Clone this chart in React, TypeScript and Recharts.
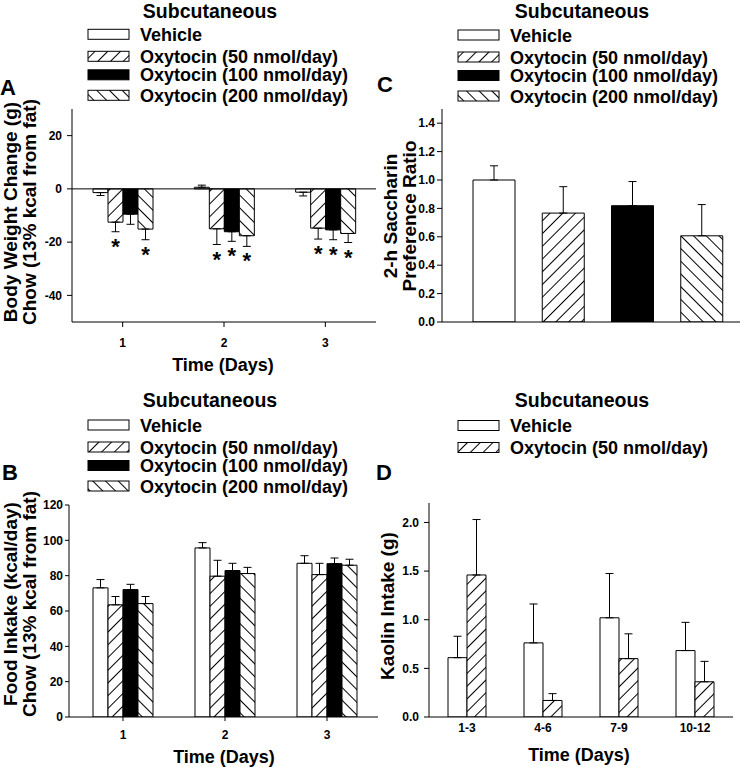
import React from 'react';
import { BarChart, Bar, XAxis, YAxis, ErrorBar, ReferenceLine, LabelList, Cell } from 'recharts';

const FONT = '"Liberation Sans", Arial, Helvetica, sans-serif';

// legend / group names
const groupNames = ['Vehicle', 'Oxytocin (50 nmol/day)', 'Oxytocin (100 nmol/day)', 'Oxytocin (200 nmol/day)'];

// Panel A - body weight change (g)
const aDays = ['1', '2', '3'];
const aVehicle = [-1.4, 0.6, -1.25];
const aVehicleSem = [1.1, 0.8, 1.4];
const a50 = [-12.5, -15, -14.75];
const a50Sem = [3.6, 5.9, 4.1];
const a100 = [-9.5, -16.1, -15.4];
const a100Sem = [3.8, 3.6, 3.7];
const a200 = [-15.1, -17.6, -16.75];
const a200Sem = [4.0, 4.0, 3.4];
const a50Sig = [true, true, true];
const a100Sig = [false, true, true];
const a200Sig = [true, true, true];
const aTicks = [-40, -20, 0, 20];

// Panel B - food intake (kcal/day)
const bDays = ['1', '2', '3'];
const bVehicle = [73.1, 95.7, 87];
const bVehicleSem = [4.7, 3, 4.3];
const b50 = [63.5, 79.7, 80.6];
const b50Sem = [4.7, 9, 6.4];
const b100 = [72.1, 82.9, 86.8];
const b100Sem = [3, 4.1, 3.2];
const b200 = [64.2, 81.2, 85.9];
const b200Sem = [4, 3.5, 3.4];
const bTicks = [0, 20, 40, 60, 80, 100, 120];

// Panel C - 2-h saccharin preference ratio
const cValues = [1.0, 0.767, 0.819, 0.607];
const cSem = [0.1, 0.186, 0.17, 0.22];
const cTicks = [0, 0.2, 0.4, 0.6, 0.8, 1.0, 1.2, 1.4];

// Panel D - kaolin intake (g)
const dDays = ['1-3', '4-6', '7-9', '10-12'];
const dVehicle = [0.61, 0.762, 1.02, 0.683];
const dVehicleSem = [0.22, 0.4, 0.455, 0.29];
const d50 = [1.46, 0.17, 0.6, 0.362];
const d50Sem = [0.57, 0.07, 0.255, 0.21];
const dTicks = [0, 0.5, 1.0, 1.5, 2.0];

// error bars only go away from zero
const oneSided = (v: number, s: number) => (v < 0 ? [s, 0] : [0, s]);

const aData = aDays.map((day, i) => ({
  day,
  idx: i,
  vehicle: aVehicle[i],
  vehicleErr: oneSided(aVehicle[i], aVehicleSem[i]),
  oxt50: a50[i],
  oxt50Err: oneSided(a50[i], a50Sem[i]),
  oxt100: a100[i],
  oxt100Err: oneSided(a100[i], a100Sem[i]),
  oxt200: a200[i],
  oxt200Err: oneSided(a200[i], a200Sem[i]),
}));

const bData = bDays.map((day, i) => ({
  day,
  vehicle: bVehicle[i],
  vehicleErr: oneSided(bVehicle[i], bVehicleSem[i]),
  oxt50: b50[i],
  oxt50Err: oneSided(b50[i], b50Sem[i]),
  oxt100: b100[i],
  oxt100Err: oneSided(b100[i], b100Sem[i]),
  oxt200: b200[i],
  oxt200Err: oneSided(b200[i], b200Sem[i]),
}));

const cData = groupNames.map((name, i) => ({
  name,
  value: cValues[i],
  err: oneSided(cValues[i], cSem[i]),
}));

const dData = dDays.map((day, i) => ({
  day,
  vehicle: dVehicle[i],
  vehicleErr: oneSided(dVehicle[i], dVehicleSem[i]),
  oxt50: d50[i],
  oxt50Err: oneSided(d50[i], d50Sem[i]),
}));

const groupFills = ['#fff', 'url(#hatchFwd)', '#000', 'url(#hatchBack)'];

const tickStyle = { fontSize: 12, fontWeight: 700, fill: '#000', fontFamily: FONT };
const axisLine = { stroke: '#000', strokeWidth: 1 };
const fmt1 = (v: number) => v.toFixed(1);

// asterisk under the error bar of significant bars
const starLabel = (values: number[], sems: number[], sig: boolean[]) => (props: any) => {
  const vb = props.viewBox || {};
  const x = Number(props.x ?? vb.x);
  const y = Number(props.y ?? vb.y);
  const width = Number(props.width ?? vb.width);
  const height = Number(props.height ?? vb.height);
  const i = Number(props.value);
  if (!sig[i] || !isFinite(x) || !isFinite(y)) return null;
  const bottom = Math.max(y, y + height);
  const pxPerUnit = Math.abs(height) / Math.abs(values[i]);
  const end = bottom + sems[i] * pxPerUnit;
  return (
    <text x={x + width / 2} y={end + 22} textAnchor="middle" fontSize={22} fontWeight={700} fontFamily={FONT} fill="#000">
      *
    </text>
  );
};

const barProps = { stroke: '#000', strokeWidth: 1, isAnimationActive: false };
const errProps = { width: 4, stroke: '#000', strokeWidth: 1, isAnimationActive: false };

const Legend = ({ x, y, count }: { x: number; y: number; count: number }) => {
  const offsets = [0, 22, 40.5, 61];
  return (
    <g>
      {groupNames.slice(0, count).map((name, i) => (
        <g key={name}>
          <rect x={x} y={y + offsets[i] - 5} width={41} height={10} fill={groupFills[i]} stroke="#000" strokeWidth={1} />
          <text x={x + 52} y={y + offsets[i] + 6.5} fontSize={18} fontWeight={700} fontFamily={FONT} fill="#000">
            {name}
          </text>
        </g>
      ))}
    </g>
  );
};

const VLabel = ({ x, y, text }: { x: number; y: number; text: string }) => (
  <text x={x} y={y} transform={`rotate(-90 ${x} ${y})`} textAnchor="middle" fontSize={19} fontWeight={700} fontFamily={FONT} fill="#000">
    {text}
  </text>
);

const Heading = ({ x, y, text, size = 20 }: { x: number; y: number; text: string; size?: number }) => (
  <text x={x} y={y} textAnchor="middle" fontSize={size} fontWeight={700} fontFamily={FONT} fill="#000">
    {text}
  </text>
);

export default function App() {
  return (
    <div style={{ position: 'absolute', left: 0, top: 0, width: 750, height: 767, background: '#fff', fontFamily: FONT }}>
      {/* A */}
      <div style={{ position: 'absolute', left: 0, top: 0 }}>
        <BarChart width={380} height={390} data={aData} margin={{ top: 109, right: 4, bottom: 38, left: 0 }} barGap={0}>
          <XAxis dataKey="day" height={30} interval={0} tickSize={5} tickMargin={11} axisLine={axisLine} tickLine={axisLine} tick={tickStyle} />
          <YAxis type="number" domain={[-50, 30]} ticks={aTicks} allowDataOverflow width={72} tickSize={5} tickMargin={5} axisLine={axisLine} tickLine={axisLine} tick={tickStyle} />
          <ReferenceLine y={0} stroke="#000" strokeWidth={1} />
          <Bar dataKey="vehicle" barSize={15} fill="#fff" {...barProps}>
            <ErrorBar dataKey="vehicleErr" {...errProps} />
          </Bar>
          <Bar dataKey="oxt50" barSize={15} fill="url(#hatchFwd)" {...barProps}>
            <ErrorBar dataKey="oxt50Err" {...errProps} />
            <LabelList dataKey="idx" content={starLabel(a50, a50Sem, a50Sig)} />
          </Bar>
          <Bar dataKey="oxt100" barSize={15} fill="#000" {...barProps}>
            <ErrorBar dataKey="oxt100Err" {...errProps} />
            <LabelList dataKey="idx" content={starLabel(a100, a100Sem, a100Sig)} />
          </Bar>
          <Bar dataKey="oxt200" barSize={15} fill="url(#hatchBack)" {...barProps}>
            <ErrorBar dataKey="oxt200Err" {...errProps} />
            <LabelList dataKey="idx" content={starLabel(a200, a200Sem, a200Sig)} />
          </Bar>
        </BarChart>
      </div>

      {/* C */}
      <div style={{ position: 'absolute', left: 375, top: 0 }}>
        <BarChart width={375} height={390} data={cData} margin={{ top: 109, right: 10, bottom: 38, left: 0 }}>
          <XAxis dataKey="name" height={30} padding={{ left: 17, right: 4 }} axisLine={axisLine} tickLine={false} tick={false} />
          <YAxis type="number" domain={[0, 1.5]} ticks={cTicks} allowDataOverflow width={67} tickSize={5} tickMargin={2} tickFormatter={fmt1} axisLine={axisLine} tickLine={axisLine} tick={tickStyle} />
          <Bar dataKey="value" barSize={42} {...barProps}>
            {cData.map((d, i) => (
              <Cell key={d.name} fill={groupFills[i]} />
            ))}
            <ErrorBar dataKey="err" {...errProps} />
          </Bar>
        </BarChart>
      </div>

      {/* B */}
      <div style={{ position: 'absolute', left: 0, top: 390 }}>
        <BarChart width={380} height={377} data={bData} margin={{ top: 115, right: 2, bottom: 20, left: 0 }} barGap={0}>
          <XAxis dataKey="day" height={30} interval={0} padding={{ left: 3, right: 0 }} tickSize={4} tickMargin={9} axisLine={axisLine} tickLine={axisLine} tick={tickStyle} />
          <YAxis type="number" domain={[0, 120]} ticks={bTicks} allowDataOverflow width={69} tickSize={4} tickMargin={2} axisLine={axisLine} tickLine={axisLine} tick={tickStyle} />
          <Bar dataKey="vehicle" barSize={15} fill="#fff" {...barProps}>
            <ErrorBar dataKey="vehicleErr" {...errProps} />
          </Bar>
          <Bar dataKey="oxt50" barSize={15} fill="url(#hatchFwd)" {...barProps}>
            <ErrorBar dataKey="oxt50Err" {...errProps} />
          </Bar>
          <Bar dataKey="oxt100" barSize={15} fill="#000" {...barProps}>
            <ErrorBar dataKey="oxt100Err" {...errProps} />
          </Bar>
          <Bar dataKey="oxt200" barSize={15} fill="url(#hatchBack)" {...barProps}>
            <ErrorBar dataKey="oxt200Err" {...errProps} />
          </Bar>
        </BarChart>
      </div>

      {/* D */}
      <div style={{ position: 'absolute', left: 375, top: 390 }}>
        <BarChart width={375} height={377} data={dData} margin={{ top: 113, right: 17, bottom: 20, left: 0 }} barGap={0}>
          <XAxis dataKey="day" height={30} interval={0} tickSize={0} tickMargin={6} axisLine={axisLine} tickLine={false} tick={tickStyle} />
          <YAxis type="number" domain={[0, 2.2]} ticks={dTicks} allowDataOverflow width={54} tickSize={5} tickMargin={5} tickFormatter={fmt1} axisLine={axisLine} tickLine={axisLine} tick={tickStyle} />
          <Bar dataKey="vehicle" barSize={19} fill="#fff" {...barProps}>
            <ErrorBar dataKey="vehicleErr" {...errProps} />
          </Bar>
          <Bar dataKey="oxt50" barSize={19} fill="url(#hatchFwd)" {...barProps}>
            <ErrorBar dataKey="oxt50Err" {...errProps} />
          </Bar>
        </BarChart>
      </div>

      {/* titles, legends, axis titles */}
      <svg width={750} height={767} style={{ position: 'absolute', left: 0, top: 0, pointerEvents: 'none' }}>
        <defs>
          <pattern id="hatchFwd" patternUnits="userSpaceOnUse" width={9} height={9} patternTransform="rotate(45)">
            <rect width={9} height={9} fill="#fff" />
            <line x1={4.5} y1={0} x2={4.5} y2={9} stroke="#000" strokeWidth={1} />
          </pattern>
          <pattern id="hatchBack" patternUnits="userSpaceOnUse" width={9} height={9} patternTransform="rotate(-45)">
            <rect width={9} height={9} fill="#fff" />
            <line x1={4.5} y1={0} x2={4.5} y2={9} stroke="#000" strokeWidth={1} />
          </pattern>
        </defs>

        <Heading x={210} y={18} text="Subcutaneous" size={19.5} />
        <Heading x={582} y={18} text="Subcutaneous" size={19.5} />
        <Heading x={210} y={407} text="Subcutaneous" size={19.5} />
        <Heading x={582} y={407} text="Subcutaneous" size={19.5} />

        <Legend x={88} y={34.3} count={4} />
        <Legend x={458} y={35} count={4} />
        <Legend x={88} y={425} count={4} />
        <Legend x={458} y={425.5} count={2} />

        <text x={0} y={95} fontSize={22} fontWeight={700} fontFamily={FONT} fill="#000">A</text>
        <text x={377} y={92} fontSize={22} fontWeight={700} fontFamily={FONT} fill="#000">C</text>
        <text x={2} y={480} fontSize={22} fontWeight={700} fontFamily={FONT} fill="#000">B</text>
        <text x={376} y={480} fontSize={22} fontWeight={700} fontFamily={FONT} fill="#000">D</text>

        <VLabel x={17} y={212} text="Body Weight Change (g)" />
        <VLabel x={36} y={212} text="Chow (13% kcal from fat)" />
        <VLabel x={17} y={604} text="Food Inkake (kcal/day)" />
        <VLabel x={36} y={604} text="Chow (13% kcal from fat)" />
        <VLabel x={397} y={216} text="2-h Saccharin" />
        <VLabel x={416} y={216} text="Preference Ratio" />
        <VLabel x={394} y={606} text="Kaolin Intake (g)" />

        <Heading x={223} y={371} text="Time (Days)" size={18} />
        <Heading x={224} y={763} text="Time (Days)" size={18} />
        <Heading x={579} y={761} text="Time (Days)" size={18} />
      </svg>
    </div>
  );
}
